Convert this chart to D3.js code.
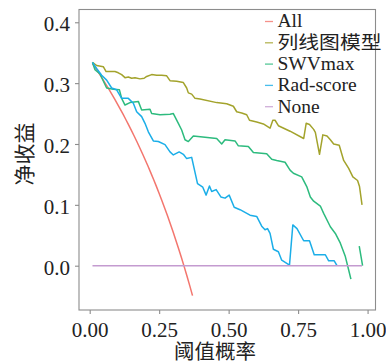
<!DOCTYPE html>
<html>
<head>
<meta charset="utf-8">
<script src="https://cdn.jsdelivr.net/npm/d3@7"></script>
<style>
html,body{margin:0;padding:0;background:#fff;}
svg{display:block;}
text{font-family:"Liberation Serif","Noto Sans CJK SC",serif;fill:#222;}
</style>
</head>
<body>
<svg id="chart" width="386" height="363"></svg>
<script>
// ---- data ----
const seriesNames = ["All", "列线图模型", "SWVmax", "Rad-score", "None"];
const seriesColors = ["#F3766E", "#A3A32C", "#2DBB7E", "#1BAEE8", "#C49BD0"];
const xTicks = [0, 0.25, 0.5, 0.75, 1];
const xTickLabels = ["0.00", "0.25", "0.50", "0.75", "1.00"];
const yTicks = [0, 0.1, 0.2, 0.3, 0.4];
const yTickLabels = ["0.0", "0.1", "0.2", "0.3", "0.4"];
const xTitle = "阈值概率";
const yTitle = "净收益";

const allThresholds = [0.01,0.02,0.03,0.04,0.05,0.06,0.07,0.08,0.09,0.10,0.11,0.12,0.13,0.14,0.15,0.16,0.17,0.18,0.19,0.20,0.21,0.22,0.23,0.24,0.25,0.26,0.27,0.28,0.29,0.30,0.31,0.32,0.33,0.34,0.35,0.36,0.37];
const allValues = [0.332,0.3255,0.3186,0.3115,0.3042,0.2968,0.2893,0.2815,0.2736,0.2656,0.2573,0.2489,0.2402,0.2314,0.2224,0.2131,0.2036,0.1939,0.1839,0.1737,0.1633,0.1526,0.1416,0.1303,0.1187,0.1068,0.0945,0.0819,0.0690,0.0557,0.0420,0.0279,0.0134,-0.0015,-0.0169,-0.0328,-0.0492];

const nomogram = [[0.01,0.334],[0.025,0.329],[0.049,0.327],[0.059,0.319],[0.091,0.319],[0.103,0.317],[0.115,0.314],[0.127,0.309],[0.139,0.310],[0.151,0.308],[0.163,0.309],[0.181,0.307],[0.196,0.308],[0.205,0.311],[0.223,0.314],[0.241,0.313],[0.259,0.313],[0.277,0.312],[0.289,0.304],[0.313,0.303],[0.337,0.301],[0.349,0.292],[0.355,0.284],[0.367,0.282],[0.379,0.275],[0.397,0.274],[0.457,0.268],[0.493,0.266],[0.517,0.262],[0.529,0.253],[0.547,0.251],[0.565,0.248],[0.575,0.239],[0.601,0.236],[0.625,0.233],[0.649,0.226],[0.659,0.239],[0.667,0.239],[0.679,0.230],[0.721,0.221],[0.770,0.209],[0.779,0.234],[0.791,0.232],[0.806,0.224],[0.812,0.219],[0.827,0.183],[0.839,0.215],[0.854,0.213],[0.866,0.207],[0.878,0.200],[0.898,0.198],[0.914,0.173],[0.932,0.160],[0.947,0.146],[0.964,0.140],[0.971,0.130],[0.980,0.100]];

const swvmax = [[0.01,0.334],[0.019,0.322],[0.037,0.315],[0.061,0.292],[0.085,0.290],[0.107,0.289],[0.115,0.275],[0.127,0.264],[0.145,0.268],[0.175,0.270],[0.187,0.256],[0.217,0.257],[0.223,0.250],[0.253,0.248],[0.289,0.249],[0.301,0.250],[0.319,0.234],[0.331,0.223],[0.343,0.207],[0.355,0.204],[0.373,0.213],[0.457,0.209],[0.475,0.200],[0.487,0.207],[0.523,0.205],[0.535,0.197],[0.571,0.196],[0.589,0.186],[0.637,0.184],[0.655,0.175],[0.673,0.173],[0.703,0.170],[0.721,0.157],[0.733,0.152],[0.763,0.146],[0.782,0.129],[0.794,0.113],[0.806,0.106],[0.830,0.098],[0.842,0.086],[0.866,0.064],[0.884,0.053],[0.902,0.037],[0.920,0.015],[0.932,-0.007],[0.940,-0.022],[0.955,null],[0.970,0.032],[0.982,0.000]];

const radScore = [[0.01,0.334],[0.025,0.324],[0.043,0.313],[0.061,0.305],[0.079,0.292],[0.097,0.289],[0.115,0.275],[0.139,0.275],[0.157,0.267],[0.169,0.253],[0.187,0.245],[0.199,0.234],[0.211,0.220],[0.229,0.205],[0.247,0.204],[0.271,0.199],[0.289,0.187],[0.301,0.182],[0.322,0.187],[0.337,0.183],[0.349,0.176],[0.367,0.178],[0.388,0.135],[0.407,0.129],[0.419,0.116],[0.431,0.131],[0.439,0.122],[0.455,0.125],[0.472,0.113],[0.487,0.111],[0.502,0.116],[0.520,0.096],[0.541,0.092],[0.577,0.083],[0.601,0.081],[0.619,0.065],[0.631,0.059],[0.640,0.061],[0.649,0.053],[0.661,0.027],[0.679,0.023],[0.691,0.009],[0.719,0.001],[0.731,0.067],[0.746,0.061],[0.770,0.041],[0.791,0.041],[0.808,0.018],[0.848,0.018],[0.860,0.008],[0.880,0.008],[0.890,0.000]];

const noneLine = [[0.01,0],[0.98,0]];

// ---- layout ----
const svg = d3.select("#chart");
const panel = {left: 79, right: 375.5, top: 9.5, bottom: 310};
const x = d3.scaleLinear().domain([-0.0385, 1.0285]).range([panel.left, panel.right]);
const y = d3.scaleLinear().domain([-0.0728, 0.421]).range([panel.bottom, panel.top]);
const gray = "#8c8c8c";

// panel border
svg.append("rect")
  .attr("x", panel.left).attr("y", panel.top)
  .attr("width", panel.right - panel.left).attr("height", panel.bottom - panel.top)
  .attr("fill", "none").attr("stroke", gray).attr("stroke-width", 1.1);

// x axis
const xAxis = d3.axisBottom(x).tickValues(xTicks)
  .tickFormat((d, i) => xTickLabels[i]).tickSize(4).tickPadding(6);
const gx = svg.append("g").attr("transform", `translate(0,${panel.bottom})`).call(xAxis);
gx.select(".domain").remove();
gx.selectAll(".tick line").attr("stroke", gray).attr("stroke-width", 1.1);
gx.selectAll(".tick text").attr("font-size", 21).attr("fill", "#222")
  .attr("dy", null).attr("y", 26.5)
  .style("font-family", "'Liberation Serif', serif");

// y axis
const yAxis = d3.axisLeft(y).tickValues(yTicks)
  .tickFormat((d, i) => yTickLabels[i]).tickSize(4).tickPadding(5);
const gy = svg.append("g").attr("transform", `translate(${panel.left},0)`).call(yAxis);
gy.select(".domain").remove();
gy.selectAll(".tick line").attr("stroke", gray).attr("stroke-width", 1.1);
gy.selectAll(".tick text").attr("font-size", 21).attr("fill", "#222")
  .attr("dy", null).attr("y", 8.3).attr("x", -9)
  .style("font-family", "'Liberation Serif', serif");

// axis titles
svg.append("text").attr("x", 215).attr("y", 358.5)
  .attr("text-anchor", "middle").attr("font-size", 20.5).text(xTitle);
svg.append("text").attr("transform", "translate(32,154) rotate(-90)")
  .attr("text-anchor", "middle").attr("font-size", 21).text(yTitle);

// lines
const line = d3.line()
  .defined(d => d[1] !== null)
  .x(d => x(d[0])).y(d => y(d[1]));

const allSeries = allThresholds.map((t, i) => [t, allValues[i]]);
const seriesData = [allSeries, nomogram, swvmax, radScore, noneLine];
const plotG = svg.append("g");
seriesData.forEach((data, i) => {
  plotG.append("path").datum(data)
    .attr("d", line)
    .attr("fill", "none")
    .attr("stroke", seriesColors[i])
    .attr("stroke-width", 1.5)
    .attr("stroke-linejoin", "round");
});

// legend
const legendG = svg.append("g");
seriesNames.forEach((name, i) => {
  const base = 27.3 + i * 21.3;
  legendG.append("line")
    .attr("x1", 265).attr("x2", 273)
    .attr("y1", base - 5.8).attr("y2", base - 5.8)
    .attr("stroke", seriesColors[i]).attr("stroke-width", 1.3).attr("opacity", 0.8);
  legendG.append("text").attr("x", 277.5).attr("y", base)
    .attr("font-size", i === 1 ? 18.5 : 19.5)
    .attr("textLength", i === 1 ? 104 : null)
    .attr("lengthAdjust", "spacingAndGlyphs")
    .text(name);
});
</script>
</body>
</html>
